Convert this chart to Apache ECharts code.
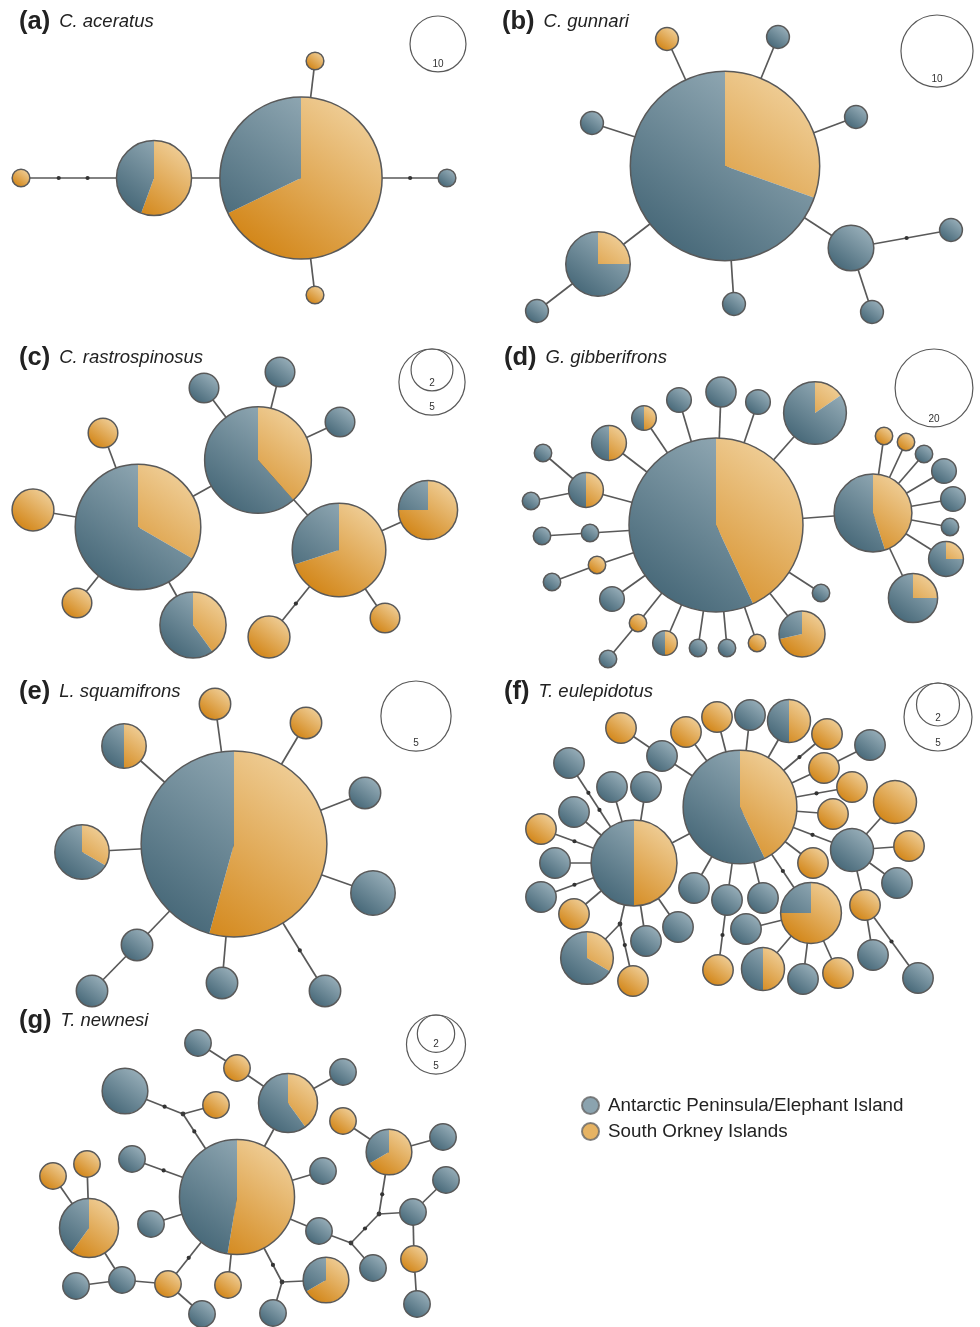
<!DOCTYPE html>
<html>
<head>
<meta charset="utf-8">
<title>Haplotype networks</title>
<script src="https://cdn.jsdelivr.net/npm/echarts@6/dist/echarts.min.js"></script>
<style>
  html, body { margin: 0; padding: 0; background: #fff; }
  #main { width: 980px; height: 1327px; }
</style>
</head>
<body>
<div id="main"></div>
<script>
// node rows: [x, y, blue count, orange count] in the panel's own layout units
// (both counts 0 = median vector). edge rows: [from, to, mutation dots]
var aNodes = [[301,178,27,57],[154,178,8,10],[21,178,0,1],[447,178,1,0],[315,61,0,1],[315,295,0,1]];
var aEdges = [[2,1,2],[1,0],[0,3,1],[0,4],[0,5]];
var aKey = [10];

var bNodes = [[235,166,48,21],[177,39,0,1],[288,37,1,0],[102,123,1,0],[366,117,1,0],[108,264,6,2],
  [47,311,1,0],[244,304,1,0],[361,248,4,0],[461,230,1,0],[382,312,1,0]];
var bEdges = [[0,1],[0,2],[0,3],[0,4],[0,5],[5,6],[0,7],[0,8],[8,9,1],[8,10]];
var bKey = [10];

var cNodes = [[138,192,12,6],[258,125,8,5],[339,215,3,7],[428,175,1,3],[193,290,3,2],[204,53,1,0],
  [280,37,1,0],[340,87,1,0],[103,98,0,1],[33,175,0,2],[77,268,0,1],[269,302,0,2],[385,283,0,1]];
var cEdges = [[0,8],[0,9],[0,10],[0,4],[0,1],[1,5],[1,6],[1,7],[1,2],[2,3],[2,11,1],[2,12]];
var cKey = [5, 2];

var dNodes = [[226,190,57,43],[383,178,11,9],[325,78,11,2],[312,299,2,5],[423,263,6,2],[456,224,3,1],
  [394,101,0,1],[416,107,0,1],[434,119,1,0],[454,136,2,0],[463,164,2,0],[460,192,1,0],
  [268,67,2,0],[231,57,3,0],[189,65,2,0],[154,83,1,1],[119,108,2,2],[96,155,2,2],[53,118,1,0],
  [41,166,1,0],[100,198,1,0],[52,201,1,0],[107,230,0,1],[62,247,1,0],[122,264,2,0],[148,288,0,1],
  [118,324,1,0],[175,308,1,1],[208,313,1,0],[237,313,1,0],[267,308,0,1],[331,258,1,0]];
var dEdges = [[0,1],[0,2],[0,3],[0,12],[0,13],[0,14],[0,15],[0,16],[0,17],[0,20],[0,22],[0,24],
  [0,25],[0,27],[0,28],[0,29],[0,30],[0,31],[1,4],[1,5],[1,6],[1,7],[1,8],[1,9],[1,10],[1,11],
  [17,18],[17,19],[20,21],[22,23],[25,26]];
var dKey = [20];

var eNodes = [[234,174,16,19],[124,76,1,1],[215,34,0,1],[306,53,0,1],[365,123,1,0],[373,223,2,0],
  [325,321,1,0],[222,313,1,0],[137,275,1,0],[92,321,1,0],[82,182,2,1]];
var eEdges = [[0,1],[0,2],[0,3],[0,4],[0,5],[0,6,1],[0,7],[0,8],[8,9],[0,10]];
var eKey = [5];

var fNodes = [[250,137,8,6],[144,193,4,4],[362,180,2,0],[321,243,1,3],[97,288,2,1],[299,51,1,1],
  [273,299,1,1],[405,132,0,2],[131,58,0,1],[172,86,1,0],[196,62,0,1],[227,47,0,1],[260,45,1,0],
  [337,64,0,1],[380,75,1,0],[334,98,0,1],[362,117,0,1],[343,144,0,1],[323,193,0,1],[204,218,1,0],
  [237,230,1,0],[228,300,0,1],[273,228,1,0],[79,93,1,0],[122,117,1,0],[156,117,1,0],[84,142,1,0],
  [51,159,0,1],[65,193,1,0],[51,227,1,0],[84,244,0,1],[156,271,1,0],[188,257,1,0],[143,311,0,1],
  [256,259,1,0],[313,309,1,0],[348,303,0,1],[419,176,0,1],[407,213,1,0],[375,235,0,1],[383,285,1,0],
  [428,308,1,0],[130,254,0,0]];
var fEdges = [[0,1],[0,9],[9,8],[0,10],[0,11],[0,12],[0,5],[0,13,1],[0,15],[15,14],[0,16,1],[0,17],
  [0,2,1],[0,18],[0,3,1],[0,19],[0,20],[20,21,1],[0,22],[1,23,2],[1,24],[1,25],[1,26],[1,27,1],
  [1,28],[1,29,1],[1,30],[1,31],[1,32],[1,42],[42,4],[42,33,1],[3,34],[3,6],[3,35],[3,36],
  [2,7],[2,37],[2,38],[2,39],[39,40],[39,41,1]];
var fKey = [5, 2];

var gNodes = [[237,192,9,10],[288,98,3,2],[389,147,1,2],[89,223,2,3],[326,275,1,2],[125,86,3,0],
  [198,38,1,0],[237,63,0,1],[343,67,1,0],[216,100,0,1],[343,116,0,1],[443,132,1,0],[132,154,1,0],
  [323,166,1,0],[53,171,0,1],[87,159,0,1],[446,175,1,0],[151,219,1,0],[413,207,1,0],[319,226,1,0],
  [414,254,0,1],[373,263,1,0],[76,281,1,0],[122,275,1,0],[168,279,0,1],[228,280,0,1],[202,309,1,0],
  [273,308,1,0],[417,299,1,0],[183,109,0,0],[379,209,0,0],[351,238,0,0],[282,277,0,0]];
var gEdges = [[0,29,1],[29,5,1],[29,9],[0,1],[1,7],[7,6],[1,8],[2,10],[2,11],[2,30,1],[0,12,1],
  [0,13],[0,17],[0,19],[19,31],[31,21],[31,30,1],[30,18],[18,16],[18,20],[20,28],[0,32,1],[32,4],
  [32,27],[0,25],[0,24,1],[24,23],[24,26],[23,22],[23,3],[3,14],[3,15]];
var gKey = [5, 2];

var panels = [
  {tag: '(a)', name: 'C. aceratus', nodes: aNodes, edges: aEdges, key: aKey},
  {tag: '(b)', name: 'C. gunnari', nodes: bNodes, edges: bEdges, key: bKey},
  {tag: '(c)', name: 'C. rastrospinosus', nodes: cNodes, edges: cEdges, key: cKey},
  {tag: '(d)', name: 'G. gibberifrons', nodes: dNodes, edges: dEdges, key: dKey},
  {tag: '(e)', name: 'L. squamifrons', nodes: eNodes, edges: eEdges, key: eKey},
  {tag: '(f)', name: 'T. eulepidotus', nodes: fNodes, edges: fEdges, key: fKey},
  {tag: '(g)', name: 'T. newnesi', nodes: gNodes, edges: gEdges, key: gKey}
];
var regions = ['Antarctic Peninsula/Elephant Island', 'South Orkney Islands'];

// layout of the panels on the page
var boxes = [[0, 0], [490, 0], [0, 335], [490, 335], [0, 670], [490, 670], [0, 1005]];
var titleTop = [9, 9, 345, 345, 679, 679, 1008];
var titleLeft = [19, 502, 19, 504, 19, 504, 19];
var units = [8.85, 11.4, 14.8, 8.7, 15.7, 15.2, 13.2];   // radius of a single haplotype
var keyPos = [[438, 16], [447, 15], [432, 14], [444, 14], [416, 11], [448, 13], [436, 10]];

var FONT = '"Liberation Sans", Arial, sans-serif';
var LINE = '#595959';
var BLUE = ['#95acb7', '#496a7a'];
var ORANGE = ['#eecb92', '#d3871a'];

function shade(stops, cx, cy, r) {
  return new echarts.graphic.LinearGradient(cx + r * 0.6, cy - r * 0.8, cx - r * 0.6, cy + r * 0.8,
    [{offset: 0, color: stops[0]}, {offset: 1, color: stops[1]}], true);
}

function nodeRenderer(unit) {
  return function (params, api) {
    var c = api.coord([api.value(0), api.value(1)]);
    var b = api.value(2), o = api.value(3), n = b + o;
    if (n === 0) {
      return {type: 'circle', shape: {cx: c[0], cy: c[1], r: 2.4}, style: {fill: '#3c3c3c'}};
    }
    var r = api.size([unit * Math.sqrt(n), 0])[0];
    var kids = [];
    if (o === n || b === n) {
      kids.push({type: 'circle', shape: {cx: c[0], cy: c[1], r: r},
        style: {fill: shade(o === n ? ORANGE : BLUE, c[0], c[1], r)}});
    } else {
      var a0 = -Math.PI / 2, a1 = a0 + 2 * Math.PI * o / n;
      kids.push({type: 'sector', shape: {cx: c[0], cy: c[1], r: r, r0: 0, startAngle: a0, endAngle: a1, clockwise: true},
        style: {fill: shade(ORANGE, c[0], c[1], r)}});
      kids.push({type: 'sector', shape: {cx: c[0], cy: c[1], r: r, r0: 0, startAngle: a1, endAngle: a0 + 2 * Math.PI, clockwise: true},
        style: {fill: shade(BLUE, c[0], c[1], r)}});
    }
    kids.push({type: 'circle', shape: {cx: c[0], cy: c[1], r: r},
      style: {fill: null, stroke: LINE, lineWidth: 1.5}});
    return {type: 'group', children: kids};
  };
}

function edgeRenderer(unit) {
  return function (params, api) {
    var p = api.coord([api.value(0), api.value(1)]);
    var q = api.coord([api.value(2), api.value(3)]);
    var r1 = api.size([unit * Math.sqrt(api.value(4)), 0])[0];
    var r2 = api.size([unit * Math.sqrt(api.value(5)), 0])[0];
    var dots = api.value(6);
    var dx = q[0] - p[0], dy = q[1] - p[1], len = Math.sqrt(dx * dx + dy * dy);
    var kids = [{type: 'line', shape: {x1: p[0], y1: p[1], x2: q[0], y2: q[1]},
      style: {stroke: LINE, lineWidth: 1.7}}];
    var s = r1 / len, e = 1 - r2 / len;
    for (var k = 1; k <= dots; k++) {
      var t = s + (e - s) * k / (dots + 1);
      kids.push({type: 'circle', shape: {cx: p[0] + dx * t, cy: p[1] + dy * t, r: 2.1}, style: {fill: '#333'}});
    }
    return {type: 'group', children: kids};
  };
}

function keyRenderer(unit) {
  return function (params, api) {
    var v = api.value(2);
    var c = api.coord([api.value(0), api.value(1)]);
    var r = api.size([unit * Math.sqrt(v), 0])[0];
    return {type: 'group', children: [
      {type: 'circle', shape: {cx: c[0], cy: c[1] + r, r: r}, style: {fill: null, stroke: LINE, lineWidth: 1.2}},
      {type: 'text', style: {text: String(v), x: c[0], y: c[1] + 2 * r - 8, align: 'center',
        verticalAlign: 'middle', fontSize: 10, fill: '#333', fontFamily: FONT}}
    ]};
  };
}

var grids = [], xAxes = [], yAxes = [], series = [], titles = [];
panels.forEach(function (p, i) {
  var w = 490, h = i === 6 ? 322 : 335;
  grids.push({left: boxes[i][0], top: boxes[i][1], width: w, height: h});
  xAxes.push({type: 'value', gridIndex: i, min: 0, max: w, show: false});
  yAxes.push({type: 'value', gridIndex: i, min: 0, max: h, inverse: true, show: false});
  var unit = units[i];
  var edgeRows = p.edges.map(function (e) {
    var s = p.nodes[e[0]], t = p.nodes[e[1]];
    return [s[0], s[1], t[0], t[1], s[2] + s[3], t[2] + t[3], e[2] || 0];
  });
  var base = {type: 'custom', coordinateSystem: 'cartesian2d', xAxisIndex: i, yAxisIndex: i, silent: true};
  series.push(Object.assign({}, base, {renderItem: edgeRenderer(unit), data: edgeRows}));
  series.push(Object.assign({}, base, {renderItem: nodeRenderer(unit), data: p.nodes}));
  series.push(Object.assign({}, base, {renderItem: keyRenderer(unit),
    data: p.key.map(function (v) { return [keyPos[i][0], keyPos[i][1], v]; })}));
  titles.push({
    text: '{b|' + p.tag + '}{i|' + p.name + '}',
    left: titleLeft[i], top: titleTop[i], padding: 0,
    textStyle: {fontWeight: 'normal', rich: {
      b: {fontSize: 25.5, fontWeight: 'bold', color: '#222', fontFamily: FONT},
      i: {fontSize: 18.5, fontStyle: 'italic', fontWeight: 'normal', color: '#222', fontFamily: FONT, padding: [0, 0, 0, 9]}
    }}
  });
});

// empty series only to feed the legend
series.push({name: regions[0], type: 'scatter', xAxisIndex: 6, yAxisIndex: 6, data: [],
  itemStyle: {color: '#6e8c9b', borderColor: '#666', borderWidth: 1}});
series.push({name: regions[1], type: 'scatter', xAxisIndex: 6, yAxisIndex: 6, data: [],
  itemStyle: {color: '#e0a03c', borderColor: '#666', borderWidth: 1}});

var myChart = echarts.init(document.getElementById('main'));
myChart.setOption({
  animation: false,
  backgroundColor: '#fff',
  title: titles,
  legend: {
    data: regions, orient: 'vertical', left: 581, top: 1096, padding: 0, itemGap: 7,
    itemWidth: 17, itemHeight: 17, icon: 'circle', selectedMode: false,
    textStyle: {fontSize: 18.8, color: '#222', fontFamily: FONT, padding: [0, 0, 0, 4]}
  },
  grid: grids,
  xAxis: xAxes,
  yAxis: yAxes,
  series: series
});
</script>
</body>
</html>
